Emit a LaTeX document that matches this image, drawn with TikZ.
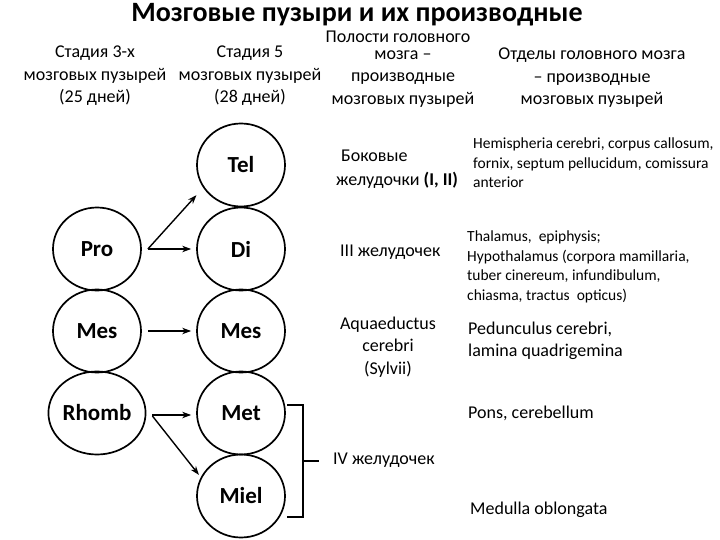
\documentclass[tikz,border=0pt]{standalone}
\usepackage{fontspec}
\setmainfont{Carlito}
\usetikzlibrary{shapes.geometric,arrows.meta}
\begin{document}
\begin{tikzpicture}[x=1pt,y=-1pt,
  bubble/.style={draw, line width=1.7pt, ellipse, minimum width=88pt, minimum height=83pt, inner sep=0pt, font=\fontsize{23}{26}\selectfont\bfseries},
  hdr/.style={align=center, inner sep=0pt, font=\fontsize{18}{22.5}\selectfont},
  lbl/.style={align=left, inner sep=0pt, anchor=west, font=\fontsize{18}{22}\selectfont},
  sm/.style={align=left, inner sep=0pt, anchor=west, font=\fontsize{15.5}{19.5}\selectfont},
  arr/.style={-{Stealth[length=9pt,width=6.5pt]}, line width=1.4pt},
  brace/.style={line width=1.4pt}]
\useasboundingbox (0,0) rectangle (720,540);
\fill[white] (0,0) rectangle (720,540);

% title and headers
\node[inner sep=0pt, font=\fontsize{28}{32}\selectfont\bfseries] (title) at (357,15) {Мозговые пузыри и их производные};
\node[hdr] (h1) at (95,76) {Стадия 3-х\\мозговых пузырей\\(25 дней)};
\node[hdr] (h2) at (250,76) {Стадия 5\\мозговых пузырей\\(28 дней)};
\node[hdr] (h3a) at (398,37) {Полости головного};
\node[hdr] (h3) at (403,79) {мозга –\\производные\\мозговых пузырей};
\node[hdr] (h4) at (592,78) {Отделы головного мозга\\– производные\\мозговых пузырей};

% bubbles
\node[bubble] (pro) at (97,249) {Pro};
\node[bubble] (mes1) at (97,331) {Mes};
\node[bubble] (rhomb) at (97,413) {Rhomb};
\node[bubble] (tel) at (241,165) {Tel};
\node[bubble] (di) at (241,249) {Di};
\node[bubble] (mes2) at (241,331) {Mes};
\node[bubble] (met) at (241,413) {Met};
\node[bubble] (miel) at (241,496) {Miel};

% arrows
\coordinate (pa) at ([xshift=6pt]pro.east);
\coordinate (ma) at ([xshift=6pt]mes1.east);
\coordinate (ra) at ([xshift=6pt,yshift=-3pt]rhomb.east);
\draw[arr, shorten >=10pt] (pa) -- (tel.211);
\draw[arr] (pa) -- ([xshift=-5pt]di.west);
\draw[arr] (ma) -- ([xshift=-5pt]mes2.west);
\draw[arr] ([xshift=6pt,yshift=-2pt]rhomb.east) -- ([xshift=-5pt,yshift=-2pt]met.west);
\draw[arr, shorten >=3pt] (ra) -- (miel.155);

% brace
\coordinate (bt) at (287,405);
\coordinate (bb) at (287,517);
\coordinate (bm) at (303,461);
\coordinate (btip) at (319,461);
\draw[brace] (bt) -- (bt -| bm) -- (bb -| bm) -- (bb);
\draw[brace] (bm) -- (btip);

% right column texts
\node[lbl] (bok1) at (341,156) {Боковые};
\node[lbl] (bok2) at (336,180) {желудочки \textbf{(I, II)}};
\node[sm] (hem) at (473,163) {Hemispheria cerebri, corpus callosum,\\fornix, septum pellucidum, comissura\\anterior};
\node[lbl] (v3) at (340,252) {III желудочек};
\node[sm] (thal) at (467,267) {Thalamus,\ \ epiphysis;\\Hypothalamus (corpora mamillaria,\\tuber cinereum, infundibulum,\\chiasma, tractus\ \ opticus)};
\node[hdr] (aq) at (388,347) {Aquaeductus\\cerebri\\(Sylvii)};
\node[lbl] (ped) at (468,341) {Pedunculus cerebri,\\lamina quadrigemina};
\node[lbl] (pons) at (468,413) {Pons, cerebellum};
\node[lbl] (v4) at (333,460) {IV желудочек};
\node[lbl] (med) at (470,510) {Medulla oblongata};
\end{tikzpicture}
\end{document}
